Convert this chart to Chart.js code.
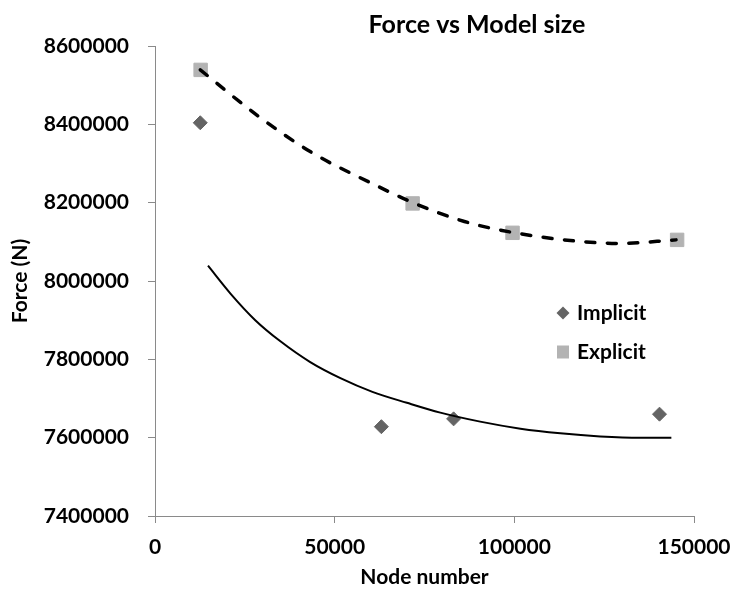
<!DOCTYPE html>
<html>
<head>
<meta charset="utf-8">
<script src="https://cdn.jsdelivr.net/npm/chart.js@4/dist/chart.umd.min.js"></script>
<style>
  html, body { margin: 0; padding: 0; background: #ffffff; }
  #wrap { width: 734px; height: 590px; position: relative; }
</style>
</head>
<body>
<div id="wrap"><canvas id="chart"></canvas></div>
<script>
// Measured samples
const implicitNodes = [12600, 63000, 83100, 140400];
const implicitForce = [8404000, 7628000, 7648000, 7660000];
const explicitNodes = [12700, 71700, 99500, 145300];
const explicitForce = [8539000, 8198000, 8123000, 8105000];

// Trend curves through each series
const implicitTrendNodes = [14750, 21000, 27900, 34900, 43200, 51600, 60500, 70100, 79400, 90500, 101700, 112800, 123900, 135100, 143700];
const implicitTrendForce = [8039000, 7968000, 7900000, 7846000, 7793000, 7752000, 7717000, 7689000, 7664000, 7641000, 7623000, 7611000, 7603000, 7599500, 7600000];
const explicitTrendNodes = [12600, 29600, 44000, 60400, 71800, 86100, 99500, 117000, 129400, 145000];
const explicitTrendForce = [8539000, 8415000, 8326000, 8249000, 8200000, 8152000, 8124000, 8102000, 8096000, 8105000];

// Axis settings
const xTicks = [0, 50000, 100000, 150000];
const yTicks = [7400000, 7600000, 7800000, 8000000, 8200000, 8400000, 8600000];

const seriesNames = ['Implicit', 'Explicit'];
const chartTitle = 'Force vs Model size';
const xTitle = 'Node number';
const yTitle = 'Force (N)';

const pairs = (xs, ys) => xs.map((x, i) => ({ x, y: ys[i] }));

const FONT = 'Lato, "Open Sans", sans-serif';
const AXIS_GREY = '#8a8a8a';
const DARK = '#646464';
const LIGHT = '#b3b3b3';

// Title drawn above the plot
const titlePlugin = {
  id: 'topTitle',
  afterDraw(chart) {
    const ctx = chart.ctx;
    ctx.save();
    ctx.font = 'bold 25px ' + FONT;
    ctx.fillStyle = '#000';
    ctx.textAlign = 'center';
    ctx.textBaseline = 'middle';
    ctx.fillText(chartTitle, 477, 25);
    ctx.restore();
  }
};

// Legend placed inside the plot area
const innerLegend = {
  id: 'innerLegend',
  afterDraw(chart) {
    const ctx = chart.ctx;
    const a = chart.chartArea;
    const mx = a.left + 408;
    const ys = [a.top + 267, a.top + 306];
    ctx.save();
    // diamond
    ctx.fillStyle = DARK;
    ctx.beginPath();
    ctx.moveTo(mx - 6.5, ys[0]);
    ctx.lineTo(mx, ys[0] - 6.5);
    ctx.lineTo(mx + 6.5, ys[0]);
    ctx.lineTo(mx, ys[0] + 6.5);
    ctx.closePath();
    ctx.fill();
    // square
    ctx.fillStyle = LIGHT;
    ctx.fillRect(mx - 6, ys[1] - 6.5, 12, 13);
    ctx.font = 'bold 21px ' + FONT;
    ctx.fillStyle = '#000';
    ctx.textAlign = 'left';
    ctx.textBaseline = 'middle';
    seriesNames.forEach((n, i) => ctx.fillText(n, mx + 14, ys[i]));
    ctx.restore();
  }
};

const tickFont = { family: FONT, size: 21, weight: 'bold' };

new Chart(document.getElementById('chart'), {
  type: 'scatter',
  data: {
    datasets: [
      {
        label: 'Implicit trend',
        data: pairs(implicitTrendNodes, implicitTrendForce),
        showLine: true,
        borderColor: '#000',
        borderWidth: 2,
        pointRadius: 0,
        cubicInterpolationMode: 'monotone',
        order: 0
      },
      {
        label: 'Explicit trend',
        data: pairs(explicitTrendNodes, explicitTrendForce),
        showLine: true,
        borderColor: '#000',
        borderWidth: 3.5,
        borderDash: [9, 12.5],
        borderCapStyle: 'round',
        pointRadius: 0,
        cubicInterpolationMode: 'monotone',
        order: 0
      },
      {
        label: seriesNames[0],
        data: pairs(implicitNodes, implicitForce),
        pointStyle: 'rectRot',
        pointRadius: 7,
        pointBorderWidth: 1,
        backgroundColor: DARK,
        borderColor: DARK,
        order: 1
      },
      {
        label: seriesNames[1],
        data: pairs(explicitNodes, explicitForce),
        pointStyle: 'rect',
        pointRadius: 9.5,
        pointBorderWidth: 1,
        backgroundColor: LIGHT,
        borderColor: LIGHT,
        order: 1
      }
    ]
  },
  options: {
    responsive: true,
    maintainAspectRatio: false,
    animation: false,
    devicePixelRatio: 1,
    layout: { padding: { top: 46, right: 40, left: 0, bottom: 0 } },
    plugins: {
      legend: { display: false },
      tooltip: { enabled: false },
      title: { display: false }
    },
    scales: {
      x: {
        type: 'linear',
        min: xTicks[0],
        max: xTicks[xTicks.length - 1],
        afterBuildTicks: s => { s.ticks = xTicks.map(v => ({ value: v })); },
        afterFit: s => { s.height = 74; s.paddingLeft = 0; s.paddingRight = 0; },
        ticks: {
          font: tickFont,
          color: '#000',
          padding: 12,
          maxRotation: 0,
          callback: v => String(v)
        },
        grid: { drawOnChartArea: false, tickLength: 7, color: AXIS_GREY },
        border: { color: AXIS_GREY, width: 1 },
        title: {
          display: true,
          text: xTitle,
          font: tickFont,
          color: '#000',
          padding: { top: 0, bottom: 0 }
        }
      },
      y: {
        type: 'linear',
        min: yTicks[0],
        max: yTicks[yTicks.length - 1],
        afterBuildTicks: s => { s.ticks = yTicks.map(v => ({ value: v })); },
        afterFit: s => { s.width = 155; s.paddingTop = 0; s.paddingBottom = 0; },
        ticks: {
          font: tickFont,
          color: '#000',
          padding: 19,
          callback: v => String(v)
        },
        grid: { drawOnChartArea: false, tickLength: 7, color: AXIS_GREY },
        border: { color: AXIS_GREY, width: 1 },
        title: {
          display: true,
          text: yTitle,
          font: tickFont,
          color: '#000',
          padding: { top: 8, bottom: 8 }
        }
      }
    }
  },
  plugins: [titlePlugin, innerLegend]
});
</script>
</body>
</html>
